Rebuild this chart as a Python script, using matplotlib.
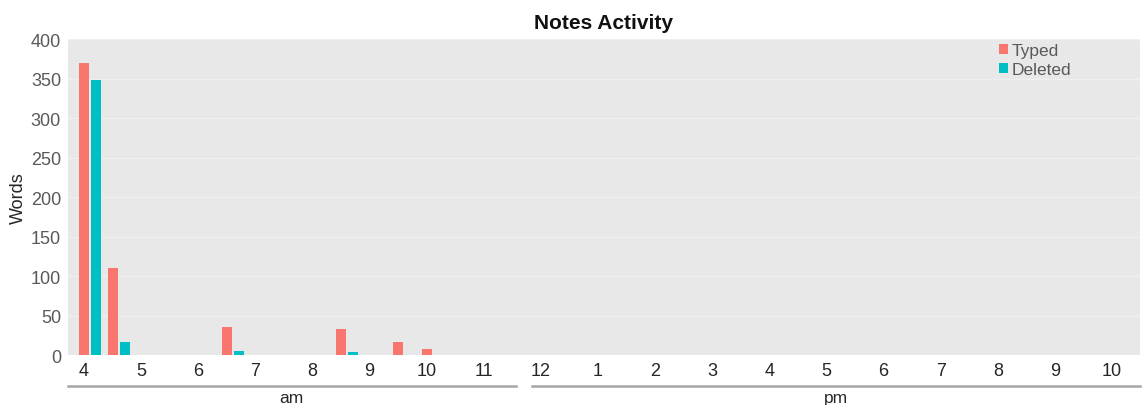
import numpy as np
import matplotlib.pyplot as plt

plt.rcParams['font.family'] = ['Liberation Sans', 'DejaVu Sans']

# half-hour slots from 4:00 am to 10:00 pm (hours, 24h clock)
slots = np.arange(4.0, 22.01, 0.5)
typed = np.zeros(len(slots))
deleted = np.zeros(len(slots))
typed_vals = {4.0: 370, 4.5: 110, 6.5: 36, 8.5: 33, 9.5: 16, 10.0: 8}
deleted_vals = {4.0: 348, 4.5: 17, 6.5: 5, 8.5: 4}
for k, v in typed_vals.items():
    typed[np.isclose(slots, k)] = v
for k, v in deleted_vals.items():
    deleted[np.isclose(slots, k)] = v

hour_ticks = np.arange(4, 23)
hour_labels = [str(h if h <= 12 else h - 12) for h in hour_ticks]

fig = plt.figure(figsize=(11.44, 4.06), dpi=100)
ax = fig.add_axes([0.0594, 0.123, 0.9371, 0.778])
ax.set_facecolor('#E8E8E8')

w = 0.175
ax.bar(slots, typed, width=w, color='#F8766D', label='Typed', zorder=3)
ax.bar(slots + 0.215, deleted, width=w, color='#00BFC4', label='Deleted', zorder=3)

ax.set_xlim(3.72, 22.49)
ax.set_ylim(0, 400)
ax.set_yticks(np.arange(0, 401, 50))
ax.yaxis.grid(True, color='#EFEFEF', linewidth=1.0, zorder=0)
ax.set_xticks(hour_ticks)
ax.set_xticklabels(hour_labels)
ax.tick_params(axis='x', length=0, labelsize=13, labelcolor='#262626', pad=5)
ax.tick_params(axis='y', length=0, labelsize=13, labelcolor='#595959', pad=5)
for s in ax.spines.values():
    s.set_visible(False)

ax.set_ylabel('Words', fontsize=13, color='#262626', labelpad=3)
ax.set_title('Notes Activity', fontsize=15, fontweight='bold', color='#111111', pad=8)

# am / pm group lines
y_line = -0.097
ax.plot([0.0, 0.418], [y_line, y_line], transform=ax.transAxes, clip_on=False,
        color='#A6A6A6', linewidth=1.8)
ax.plot([0.433, 1.0], [y_line, y_line], transform=ax.transAxes, clip_on=False,
        color='#A6A6A6', linewidth=1.8)
ax.text(0.208, -0.135, 'am', transform=ax.transAxes, ha='center', va='center',
        fontsize=12.5, color='#262626')
ax.text(0.716, -0.135, 'pm', transform=ax.transAxes, ha='center', va='center',
        fontsize=12.5, color='#262626')

leg = ax.legend(loc='upper left', bbox_to_anchor=(0.862, 1.01), frameon=False,
                fontsize=12.5, handlelength=0.5, handleheight=0.5, handletextpad=0.25,
                labelspacing=0.22, borderaxespad=0)
for t in leg.get_texts():
    t.set_color('#595959')

fig.savefig('out.png', dpi=100)
